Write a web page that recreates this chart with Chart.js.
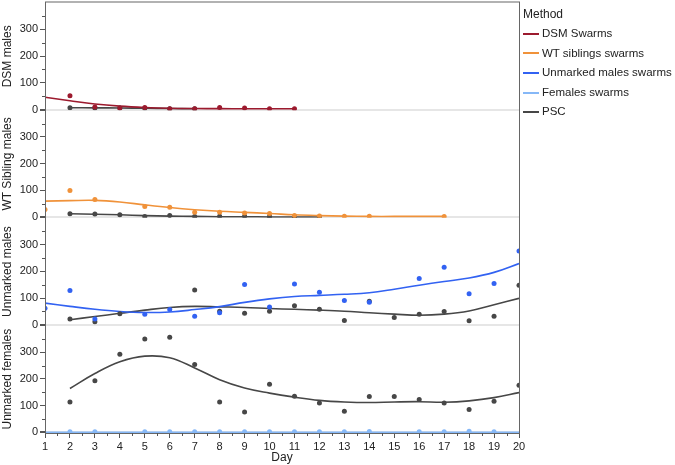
<!DOCTYPE html>
<html>
<head>
<meta charset="utf-8">
<script src="https://cdn.jsdelivr.net/npm/chart.js@4/dist/chart.umd.min.js"></script>
<style>
body { margin: 0; background: #fff; font-family: "Liberation Sans", Arial, sans-serif; }
#wrap { position: relative; width: 675px; height: 465px; }
#legend { position: absolute; left: 523px; top: 5px; font-size: 11.5px; color: #222; white-space: nowrap; }
#legend .ttl { height: 19px; line-height: 19px; font-size: 12px; }
#legend .item { height: 19.6px; line-height: 19.6px; display: flex; align-items: center; }
#legend .mark { width: 16px; height: 2px; margin-right: 3px; }
</style>
</head>
<body>
<div id="wrap">
  <canvas id="chart" width="675" height="465"></canvas>
  <div id="legend"><div class="ttl">Method</div></div>
</div>
<script>
// axes
const dayTicks = [1,2,3,4,5,6,7,8,9,10,11,12,13,14,15,16,17,18,19,20];
const minorDayTicks = [1.5,2.5,3.5,4.5,5.5,6.5,7.5,8.5,9.5,10.5,11.5,12.5,13.5,14.5,15.5,16.5,17.5,18.5,19.5];
const yTicks = [0,100,200,300];
const minorYTicks = [50,150,250,350];
const panelTitles = ["DSM males", "WT Sibling males", "Unmarked males", "Unmarked females"];
const methods = ["DSM Swarms", "WT siblings swarms", "Unmarked males swarms", "Females swarms", "PSC"];

// panel 1 - DSM males
const dsmDays = [2,3,4,5,6,7,8,9,10,11];
const dsmCounts = [52,10,6,8,3,3,8,6,3,3];
const dsmFitDays = [1,2,3,4,5,6,7,8,9,10,11];
const dsmFit = [46,33,21,13,8,5,4,3.5,3,3,3];
const psc1Days = [2,3,4,5,6,7];
const psc1Counts = [7,6,6,5,3,3];
const psc1Fit = [7,6.5,6,5,4,3];

// panel 2 - WT sibling males
const wtDays = [1,2,3,5,6,7,8,9,10,11,12,13,14,17];
const wtCounts = [29,100,66,40,37,19,19,16,14,6,5,4,4,3];
const wtFitDays = [1,2,3,4,5,6,7,8,9,10,11,12,13,14,15,16,17];
const wtFit = [60,62,63,57,46,36,28,22,18,14,9,6,4,3,3,3,3];
const psc2Days = [2,3,4,5,6,7,8,9,10,11,12];
const psc2Counts = [13,12,9,3,6,3,4,4,3,2,1];
const psc2Fit = [13,11,9,6,4,3,2,2,1,1,1];

// panel 3 - unmarked males
const umDays = [1,2,3,5,6,7,8,9,10,11,12,13,14,16,17,18,19,20];
const umCounts = [62,128,22,40,57,32,45,151,67,153,122,91,84,173,215,116,154,276];
const umFitDays = [1,2,3,4,5,6,7,8,9,10,11,12,13,14,15,16,17,18,19,20];
const umFit = [81,69,58,50,46,48,57,68,84,97,106,110,114,120,133,148,162,175,196,229];
const psc3Days = [2,3,4,7,8,9,10,11,12,13,14,15,16,17,18,19,20];
const psc3Counts = [22,12,41,130,51,43,51,71,58,16,88,27,40,50,15,32,148];
const psc3FitDays = [2,3,4,5,6,7,8,9,10,11,12,13,14,15,16,17,18,19,20];
const psc3Fit = [19,31,43,55,65,69,67,65,61,58,55,51,45,40,36,40,52,75,99];

// panel 4 - unmarked females
const femDays = [2,3,5,6,7,8,9,10,11,12,13,14,16,17,18,19];
const femCounts = [3,3,3,3,3,3,3,3,3,3,3,4,3,3,5,3];
const femFitDays = [1,2,3,4,5,6,7,8,9,10,11,12,13,14,15,16,17,18,19,20];
const femFit = [1,1,1,1,1,1,1,1,1,1,1,1,1,1,1,1,1,1,1,1];
const psc4Days = [2,3,4,5,6,7,8,9,10,11,12,13,14,15,16,17,18,19,20];
const psc4Counts = [114,193,292,349,356,254,114,76,180,135,110,79,134,134,123,110,86,117,176];
const psc4Fit = [164,220,264,285,279,241,197,166,147,132,120,114,112,114,115,113,118,130,149];

const colors = {
  "DSM Swarms": "#9c1a2e",
  "WT siblings swarms": "#f0923a",
  "Unmarked males swarms": "#3262f2",
  "Females swarms": "#86b8f7",
  "PSC": "#474747"
};

function xy(days, vals) {
  return days.map((d, i) => ({ x: d, y: vals[i] }));
}

function points(method, axis, days, vals) {
  return {
    label: method, yAxisID: axis, data: xy(days, vals), showLine: false,
    pointRadius: 2.5, pointHoverRadius: 2.5, pointBorderWidth: 0,
    backgroundColor: colors[method], borderColor: colors[method], order: 1
  };
}

function fit(method, axis, days, vals) {
  return {
    label: method, yAxisID: axis, data: xy(days, vals), showLine: true,
    pointRadius: 0, borderWidth: 1.6, tension: 0.4,
    borderColor: colors[method], backgroundColor: colors[method], order: 2
  };
}

const datasets = [
  fit("DSM Swarms", "y1", dsmFitDays, dsmFit),
  points("DSM Swarms", "y1", dsmDays, dsmCounts),
  fit("PSC", "y1", psc1Days, psc1Fit),
  points("PSC", "y1", psc1Days, psc1Counts),

  fit("WT siblings swarms", "y2", wtFitDays, wtFit),
  points("WT siblings swarms", "y2", wtDays, wtCounts),
  fit("PSC", "y2", psc2Days, psc2Fit),
  points("PSC", "y2", psc2Days, psc2Counts),

  fit("Unmarked males swarms", "y3", umFitDays, umFit),
  points("Unmarked males swarms", "y3", umDays, umCounts),
  fit("PSC", "y3", psc3FitDays, psc3Fit),
  points("PSC", "y3", psc3Days, psc3Counts),

  fit("Females swarms", "y4", femFitDays, femFit),
  points("Females swarms", "y4", femDays, femCounts),
  fit("PSC", "y4", psc4Days, psc4Fit),
  points("PSC", "y4", psc4Days, psc4Counts)
];

function panelAxis(title, weight) {
  return {
    type: "linear", position: "left", stack: "panels", stackWeight: 1, weight: weight,
    min: -2, max: 400, offset: false,
    afterBuildTicks: s => { s.ticks = yTicks.map(v => ({ value: v })); },
    afterFit: s => { s.width = 45; s.paddingTop = 0; s.paddingBottom = 0; },
    border: { display: true, color: "#666" },
    grid: {
      drawOnChartArea: true,
      color: c => (c.tick && c.tick.value === 0) ? "#e6e6e6" : "rgba(0,0,0,0)",
      lineWidth: c => (c.tick && c.tick.value === 0) ? 2 : 1,
      tickColor: "#555", tickLength: 5
    },
    ticks: { font: { size: 11 }, color: "#222", padding: 2 },
    title: { display: true, text: title, font: { size: 12 }, color: "#222", padding: 0 }
  };
}

// frame around the plot and minor ticks
const framePlugin = {
  id: "frame",
  afterDraw(chart) {
    const { ctx, chartArea: a, scales } = chart;
    ctx.save();
    ctx.strokeStyle = "#666";
    ctx.lineWidth = 1;
    ctx.strokeRect(a.left + 0.5, a.top - 0.5, a.right - a.left, a.bottom - a.top + 1);
    ctx.strokeStyle = "#555";
    ctx.beginPath();
    minorDayTicks.forEach(d => {
      const x = Math.round(scales.x.getPixelForValue(d)) + 0.5;
      ctx.moveTo(x, a.bottom);
      ctx.lineTo(x, a.bottom + 3);
    });
    ["y1", "y2", "y3", "y4"].forEach(id => {
      minorYTicks.forEach(v => {
        const y = Math.round(scales[id].getPixelForValue(v)) + 0.5;
        ctx.moveTo(a.left - 3, y);
        ctx.lineTo(a.left, y);
      });
    });
    ctx.stroke();
    ctx.restore();
  }
};

Chart.defaults.font.family = '"Liberation Sans", Arial, sans-serif';

new Chart(document.getElementById("chart"), {
  type: "scatter",
  data: { datasets: datasets },
  options: {
    responsive: false,
    animation: false,
    layout: { padding: { top: 1, right: 156, bottom: 0, left: 0 } },
    plugins: { legend: { display: false }, tooltip: { enabled: false } },
    scales: {
      x: {
        type: "linear", position: "bottom", min: 1, max: 20,
        afterBuildTicks: s => { s.ticks = dayTicks.map(v => ({ value: v })); },
        afterFit: s => { s.height = 32; },
        border: { color: "#666" },
        grid: { drawOnChartArea: false, tickColor: "#555", tickLength: 5 },
        ticks: { font: { size: 11 }, color: "#222", padding: 2, maxRotation: 0, autoSkip: false },
        title: { display: true, text: "Day", font: { size: 12 }, color: "#222", padding: { top: 0, bottom: 0 } }
      },
      y1: panelAxis(panelTitles[0], 4),
      y2: panelAxis(panelTitles[1], 3),
      y3: panelAxis(panelTitles[2], 2),
      y4: panelAxis(panelTitles[3], 1)
    }
  },
  plugins: [framePlugin]
});

// legend
const legend = document.getElementById("legend");
methods.forEach(m => {
  const row = document.createElement("div");
  row.className = "item";
  const mark = document.createElement("span");
  mark.className = "mark";
  mark.style.background = colors[m];
  const txt = document.createElement("span");
  txt.textContent = m;
  row.appendChild(mark);
  row.appendChild(txt);
  legend.appendChild(row);
});
</script>
</body>
</html>
